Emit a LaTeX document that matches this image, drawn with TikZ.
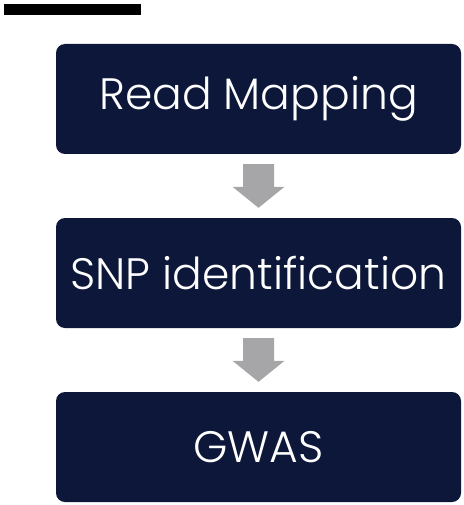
\documentclass[tikz,border=0pt]{standalone}
\usepackage{fontspec}
\IfFontExistsTF{Poppins Light}{\setmainfont{Poppins Light}}{\setmainfont{Poppins}}
\usetikzlibrary{calc}
\definecolor{navy}{HTML}{0C1739}
\definecolor{arrowgray}{HTML}{A6A6A8}
\tikzset{
  stepbox/.style={fill=navy, rounded corners=9pt, minimum width=405pt, minimum height=110pt,
    inner sep=0pt, text=white, font=\fontsize{44}{50}\selectfont},
  blockarrow/.style={fill=arrowgray}
}
\begin{document}
\begin{tikzpicture}[x=1pt,y=1pt]
\useasboundingbox (0,0) rectangle (463,-505);
\node[fill=black, minimum width=137pt, minimum height=11pt, inner sep=0pt, anchor=north west] (bar) at (4,-4) {};
\node[stepbox] (b1) at (258.5,-99) {Read Mapping};
\node[stepbox] (b2) at (258.5,-273) {SNP identification};
\node[stepbox] (b3) at (258.5,-447) {GWAS};
\foreach \a/\b in {b1/b2, b2/b3}{
  \path (\a.south) ++(0,-10) coordinate (s) (\b.north) ++(0,10) coordinate (e);
  \fill[blockarrow] ($(s)+(-15.5,0)$) -- ($(s)+(15.5,0)$) -- ($(e)+(15.5,21)$) -- ($(e)+(26,21)$)
    -- (e) -- ($(e)+(-26,21)$) -- ($(e)+(-15.5,21)$) -- cycle;
}
\end{tikzpicture}
\end{document}
